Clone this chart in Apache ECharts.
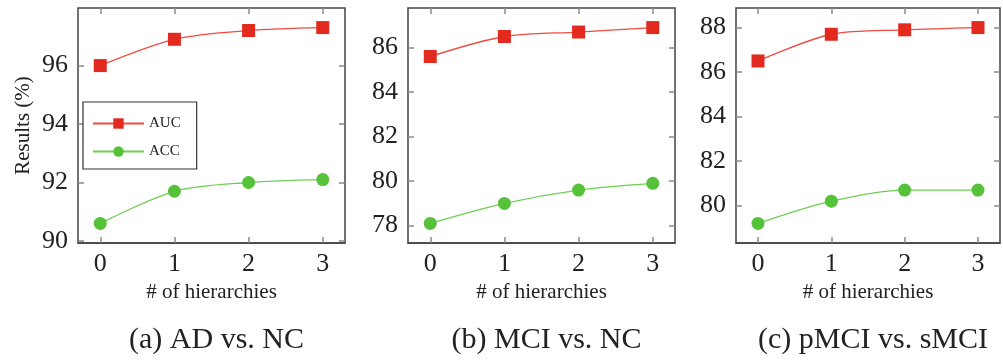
<!DOCTYPE html>
<html>
<head>
<meta charset="utf-8">
<script src="https://cdn.jsdelivr.net/npm/echarts@6/dist/echarts.min.js"></script>
<style>
  html, body { margin: 0; padding: 0; background: #fff; }
  #chart { width: 1003px; height: 360px; }
</style>
</head>
<body>
<div id="chart"></div>
<script>
// data
const hierarchies = [0, 1, 2, 3];
const panelTitles = ['(a) AD vs. NC', '(b) MCI vs. NC', '(c) pMCI vs. sMCI'];
const aucAD = [96.0, 96.9, 97.2, 97.3];
const accAD = [90.6, 91.7, 92.0, 92.1];
const aucMCI = [85.6, 86.5, 86.7, 86.9];
const accMCI = [78.1, 79.0, 79.6, 79.9];
const aucPMCI = [86.5, 87.7, 87.9, 88.0];
const accPMCI = [79.2, 80.2, 80.7, 80.7];
const yTicksAD = [90, 92, 94, 96];
const yTicksMCI = [78, 80, 82, 84, 86];
const yTicksPMCI = [80, 82, 84, 86, 88];

const panels = [
  { auc: aucAD, acc: accAD, ticks: yTicksAD, left: 78, width: 267 },
  { auc: aucMCI, acc: accMCI, ticks: yTicksMCI, left: 408, width: 267 },
  { auc: aucPMCI, acc: accPMCI, ticks: yTicksPMCI, left: 736, width: 264 }
];

const serif = '"Liberation Serif", "DejaVu Serif", serif';
const RED = '#e22a1f', RED_LINE = '#ef4b40';
const GREEN = '#55c23a', GREEN_LINE = '#6ccf52';

// pgfplots style: enlarge limits by 10% of the data range on each side
function limits(vals) {
  let lo = Math.min.apply(null, vals), hi = Math.max.apply(null, vals);
  let pad = (hi - lo) * 0.1;
  return [lo - pad, hi + pad];
}
function ticks(values) {
  return { show: true, inside: true, length: 6, customValues: values, lineStyle: { color: '#8a8a8a', width: 1.5 } };
}

let grid = [], xAxis = [], yAxis = [], series = [], title = [];
const xl = [-0.3, 3.3];

panels.forEach(function (p, i) {
  const yl = limits(p.auc.concat(p.acc));
  grid.push({
    left: p.left, top: 8, width: p.width, height: 235,
    show: true, borderColor: '#444', borderWidth: 1.5
  });
  xAxis.push({
    type: 'value', gridIndex: i, min: xl[0], max: xl[1], position: 'bottom',
    axisLine: { show: true, onZero: false, lineStyle: { color: '#444', width: 1.5 } }, splitLine: { show: false },
    axisTick: ticks(hierarchies),
    axisLabel: { customValues: hierarchies, fontFamily: serif, fontSize: 26, color: '#222', margin: 8 },
    name: '# of hierarchies', nameLocation: 'middle', nameGap: 38,
    nameTextStyle: { fontFamily: serif, fontSize: 21, color: '#222' }
  });
  xAxis.push({
    type: 'value', gridIndex: i, min: xl[0], max: xl[1], position: 'top',
    axisLine: { show: false, onZero: false }, splitLine: { show: false }, axisLabel: { show: false },
    axisTick: ticks(hierarchies)
  });
  yAxis.push({
    type: 'value', gridIndex: i, min: yl[0], max: yl[1], position: 'left',
    axisLine: { show: false, onZero: false }, splitLine: { show: false },
    axisTick: ticks(p.ticks),
    axisLabel: { customValues: p.ticks, fontFamily: serif, fontSize: 26, color: '#222', margin: 10 },
    name: i === 0 ? 'Results (%)' : '', nameLocation: 'middle', nameGap: 44, nameRotate: 90,
    nameTextStyle: { fontFamily: serif, fontSize: 21, color: '#222' }
  });
  yAxis.push({
    type: 'value', gridIndex: i, min: yl[0], max: yl[1], position: 'right',
    axisLine: { show: false, onZero: false }, splitLine: { show: false }, axisLabel: { show: false },
    axisTick: ticks(p.ticks)
  });
  series.push({
    name: 'AUC', type: 'line', xAxisIndex: 2 * i, yAxisIndex: 2 * i,
    data: hierarchies.map(function (h, k) { return [h, p.auc[k]]; }),
    smooth: 0.3, symbol: 'rect', symbolSize: 13,
    itemStyle: { color: RED }, lineStyle: { color: RED_LINE, width: 1.3 }
  });
  series.push({
    name: 'ACC', type: 'line', xAxisIndex: 2 * i, yAxisIndex: 2 * i,
    data: hierarchies.map(function (h, k) { return [h, p.acc[k]]; }),
    smooth: 0.3, symbol: 'circle', symbolSize: 13,
    itemStyle: { color: GREEN }, lineStyle: { color: GREEN_LINE, width: 1.3 }
  });
  title.push({
    text: panelTitles[i], left: p.left + p.width / 2, top: 320, textAlign: 'center',
    textStyle: { fontFamily: serif, fontSize: 30, fontWeight: 'normal', color: '#222' }
  });
});

let chart = echarts.init(document.getElementById('chart'));
chart.setOption({
  animation: false,
  title: title,
  legend: {
    data: ['AUC', 'ACC'], orient: 'vertical', left: 83, top: 102,
    padding: [14, 16, 10, 9], itemGap: 13, itemWidth: 51, itemHeight: 13, itemTextGap: 9,
    borderColor: '#333', borderWidth: 1.2, backgroundColor: '#fff',
    textStyle: { fontFamily: serif, fontSize: 15, color: '#222' }
  },
  grid: grid,
  xAxis: xAxis,
  yAxis: yAxis,
  series: series
});
</script>
</body>
</html>
